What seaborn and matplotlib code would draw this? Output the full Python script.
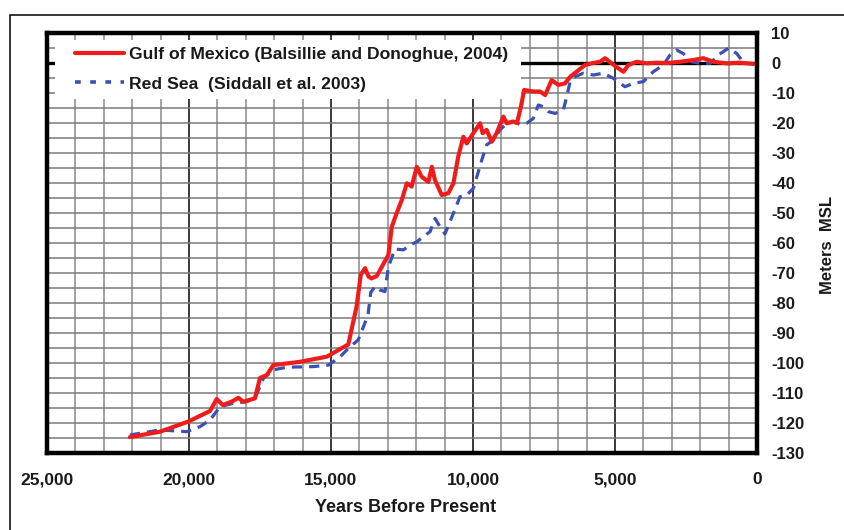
import matplotlib
matplotlib.use("Agg")
import matplotlib.pyplot as plt
from matplotlib.patches import Rectangle
from matplotlib.lines import Line2D
import seaborn as sns
import numpy as np
import pandas as pd

# Gulf of Mexico sea-level record (years before present, metres MSL)
gulf_years = [22080, 21020, 20020, 19260, 19025, 18810, 18500, 18260, 18090, 17680,
              17500, 17260, 17030, 16090, 15150, 14390, 14100, 13950, 13800, 13680,
              13570, 13390, 12980, 12860, 12690, 12510, 12330, 12160, 11980, 11810,
              11570, 11450, 11340, 11100, 10870, 10690, 10520, 10340, 10220, 9990,
              9750, 9660, 9520, 9340, 9170, 8930, 8810, 8580, 8450, 8300,
              8200, 7880, 7640, 7460, 7230, 7000, 6760, 6580, 6350, 6060,
              5820, 5530, 5350, 5120, 4880, 4700, 4530, 4240, 3880, 3530,
              3160, 2710, 2240, 1890, 1540, 1070, 600, 130]
gulf_level = [-124.7, -122.9, -119.5, -116.0, -112.0, -114.0, -112.9, -111.6, -112.9, -111.8,
              -105.0, -104.0, -100.7, -99.6, -97.9, -93.8, -81.2, -70.5, -68.4, -71.2,
              -71.8, -71.0, -64.0, -54.6, -50.1, -45.7, -40.1, -41.2, -34.6, -37.9,
              -39.6, -34.6, -39.0, -44.0, -43.4, -40.1, -31.2, -24.6, -26.8, -23.4,
              -20.1, -23.4, -22.3, -26.2, -23.4, -17.9, -20.1, -19.5, -20.0, -14.0,
              -9.0, -9.5, -9.5, -10.7, -5.7, -7.3, -6.8, -4.6, -2.9, -0.7,
              -0.1, 0.4, 1.6, -0.1, -1.8, -2.9, -0.7, 0.4, -0.1, 0.1,
              0.0, 0.4, 1.0, 1.6, 0.4, -0.1, 0.1, -0.3]

# Red Sea sea-level record
red_years = [22080, 21020, 20080, 19610, 19260, 18910, 18440, 17970, 17680, 17380,
             17030, 16560, 15620, 15090, 14680, 14330, 14040, 13800, 13690, 13600,
             13450, 13270, 13100, 12980, 12750, 12450, 12220, 11980, 11750, 11510,
             11340, 11160, 10990, 10690, 10460, 10220, 9990, 9810, 9690, 9520,
             9280, 9050, 8810, 8580, 8340, 8110, 7880, 7700, 7520, 7350,
             7110, 6820, 6700, 6580, 6410, 6120, 5760, 5410, 5060, 4650,
             4360, 4000, 3650, 3300, 3060, 2830, 2600, 2300, 2010, 1650,
             1360, 1010, 715, 540]
red_level = [-124.0, -122.3, -122.9, -121.2, -119.0, -114.6, -113.4, -112.9, -111.8, -105.1,
             -102.3, -101.4, -101.2, -100.7, -97.9, -94.6, -92.3, -86.5, -83.4, -76.5,
             -74.5, -75.7, -76.2, -68.0, -62.0, -62.3, -60.7, -59.6, -57.9, -56.2,
             -51.8, -54.6, -57.0, -50.1, -44.6, -44.0, -41.8, -36.2, -32.3, -27.3,
             -25.7, -22.3, -20.1, -19.5, -20.5, -20.1, -18.5, -14.0, -14.6, -16.2,
             -16.8, -15.7, -11.2, -6.2, -4.6, -3.4, -4.0, -3.4, -5.1, -7.9,
             -6.8, -6.2, -2.9, -0.7, 2.7, 4.3, 3.2, 0.4, -0.1, -0.1,
             2.7, 4.9, 3.2, 1.0]

x_ticks = [25000, 20000, 15000, 10000, 5000, 0]
x_tick_labels = ["25,000", "20,000", "15,000", "10,000", "5,000", "0"]
y_ticks = list(range(10, -131, -10))

gulf_label = "Gulf of Mexico (Balsillie and Donoghue, 2004)"
red_label = "Red Sea  (Siddall et al. 2003)"

sns.set_theme(style="white")
plt.rcParams["font.family"] = ["Liberation Sans", "DejaVu Sans"]
plt.rcParams["axes.unicode_minus"] = False

W, H = 845, 530
fig = plt.figure(figsize=(W / 100, H / 100), dpi=100)
L, R, T, B = 47, 757, 33, 453
ax = fig.add_axes([L / W, 1 - B / H, (R - L) / W, (B - T) / H])

# outer frame of the figure
fig.add_artist(Rectangle((10 / W, -0.5), 2.0, 1 - 15 / H + 0.5, transform=fig.transFigure,
                         fill=False, ec="black", lw=1.1, zorder=0))

ax.set_xlim(25000, 0)
ax.set_ylim(-130, 10)

# grid: vertical every 1000 yr (darker every 5000), horizontal every 5 m
for yr in range(1000, 25000, 1000):
    major = yr % 5000 == 0
    ax.axvline(yr, color="#2a2a2a" if major else "#8a8a8a",
               lw=1.3 if major else 1.1, zorder=0.5)
for m in range(-125, 10, 5):
    if m == 0:
        continue
    ax.axhline(m, color="#7a7a7a", lw=1.1, zorder=0.5)
ax.axhline(0, color="black", lw=2.4, zorder=0.6)

# blank panel behind the legend
ax.add_patch(Rectangle((0.0113, 0.843), 0.6563, 0.14, transform=ax.transAxes,
                       fc="white", ec="none", zorder=0.9))

gulf = pd.DataFrame({"years": gulf_years, "level": gulf_level})
red = pd.DataFrame({"years": red_years, "level": red_level})
sns.lineplot(data=red, x="years", y="level", ax=ax, color="#3b50b5", lw=2.3,
             linestyle=(0, (3.2, 2.2)), estimator=None, sort=False, zorder=2)
sns.lineplot(data=gulf, x="years", y="level", ax=ax, color="#f01c1c", lw=3.0,
             estimator=None, sort=False, zorder=3)

for s in ax.spines.values():
    s.set_visible(True)
    s.set_color("black")
    s.set_linewidth(3.2)
    s.set_zorder(4)

ax.set_xticks(x_ticks)
ax.set_xticklabels(x_tick_labels)
ax.set_yticks(y_ticks)
ax.yaxis.tick_right()
ax.tick_params(axis="both", length=0)
ax.tick_params(axis="x", pad=14, labelsize=12.5)
ax.tick_params(axis="y", pad=10, labelsize=12)
for lab in ax.get_xticklabels() + ax.get_yticklabels():
    lab.set_fontweight("bold")
    lab.set_color("#1a1a1a")
ax.set_xlabel("")
ax.set_ylabel("")

fig.text(406 / W, 1 - 508 / H, "Years Before Present", ha="center", va="center",
         fontsize=13, fontweight="bold", color="#1a1a1a")
fig.text(828 / W, 1 - 245 / H, "Meters  MSL", ha="center", va="center", rotation=90,
         fontsize=12, fontweight="bold", color="#1a1a1a")

handles = [Line2D([], [], color="#f01c1c", lw=3.0),
           Line2D([], [], color="#3b50b5", lw=2.6, linestyle=(0, (1.6, 2.6)))]
leg = ax.legend(handles, [gulf_label, red_label], loc="upper left",
                bbox_to_anchor=(75 / W, 1 - 47 / H), bbox_transform=fig.transFigure,
                frameon=False, borderpad=0, borderaxespad=0, handlelength=2.8,
                handletextpad=0.3, labelspacing=0.8,
                prop={"weight": "bold", "size": 12.6})
for t in leg.get_texts():
    t.set_color("#1a1a1a")
leg.set_zorder(5)

fig.savefig("out.png", dpi=100, facecolor="white")
